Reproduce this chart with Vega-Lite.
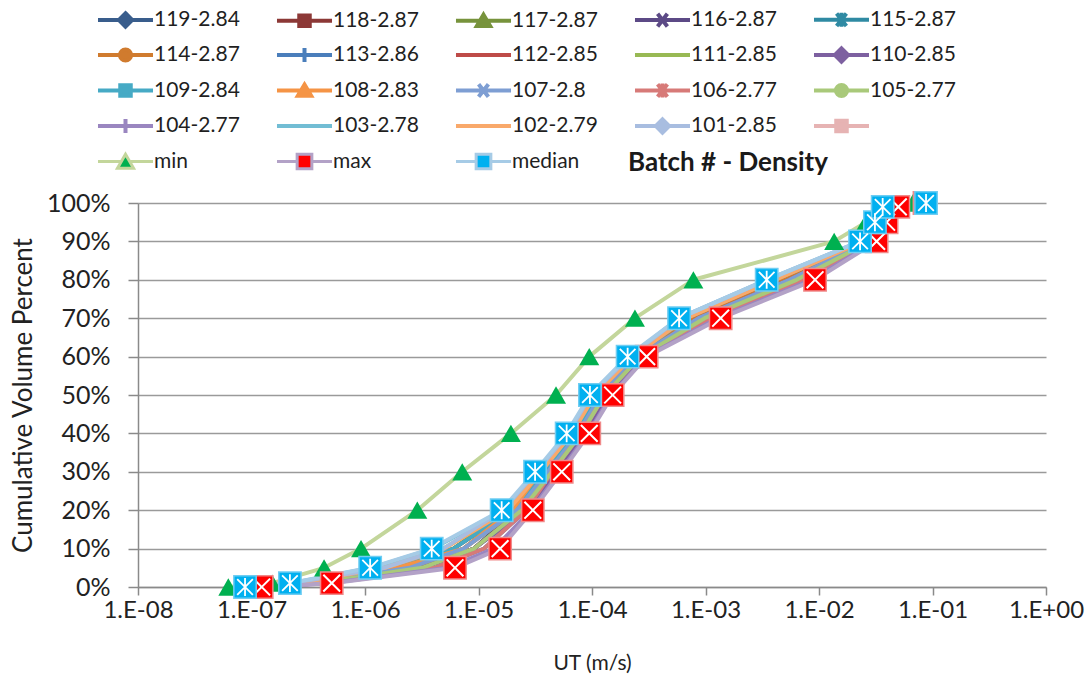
{
"$schema": "https://vega.github.io/schema/vega-lite/v6.json",
"width": 908, "height": 384,
"autosize": {"type": "none"},
"padding": {"left": 138, "top": 203, "right": 46, "bottom": 99},
"background": "white",
"title": {"text": "Batch # - Density", "anchor": "start", "frame": "group", "dx": 490, "dy": 171, "fontSize": 26, "fontWeight": "bold", "font": "Lato", "color": "#1a1a1a"},
"config": {"font": "Lato", "view": {"stroke": null}},
"data": {"values": [
{"series":"119-2.84","pct":0,"ut":1.054e-7},{"series":"119-2.84","pct":0.01,"ut":3.29e-7},{"series":"119-2.84","pct":0.05,"ut":3.19e-6},{"series":"119-2.84","pct":0.1,"ut":9.12e-6},{"series":"119-2.84","pct":0.2,"ut":2.18e-5},{"series":"119-2.84","pct":0.3,"ut":4.1e-5},{"series":"119-2.84","pct":0.4,"ut":7.53e-5},{"series":"119-2.84","pct":0.5,"ut":1.2e-4},{"series":"119-2.84","pct":0.6,"ut":2.52e-4},{"series":"119-2.84","pct":0.7,"ut":8.65e-4},{"series":"119-2.84","pct":0.8,"ut":5.47e-3},{"series":"119-2.84","pct":0.9,"ut":0.027},{"series":"119-2.84","pct":0.95,"ut":0.0351},{"series":"119-2.84","pct":0.99,"ut":0.042},{"series":"119-2.84","pct":1,"ut":0.078},
{"series":"118-2.87","pct":0,"ut":1.005e-7},{"series":"118-2.87","pct":0.01,"ut":2.89e-7},{"series":"118-2.87","pct":0.05,"ut":1.91e-6},{"series":"118-2.87","pct":0.1,"ut":6.03e-6},{"series":"118-2.87","pct":0.2,"ut":1.98e-5},{"series":"118-2.87","pct":0.3,"ut":3.79e-5},{"series":"118-2.87","pct":0.4,"ut":7.05e-5},{"series":"118-2.87","pct":0.5,"ut":1.12e-4},{"series":"118-2.87","pct":0.6,"ut":2.39e-4},{"series":"118-2.87","pct":0.7,"ut":7.6e-4},{"series":"118-2.87","pct":0.8,"ut":4.71e-3},{"series":"118-2.87","pct":0.9,"ut":0.0256},{"series":"118-2.87","pct":0.95,"ut":0.0339},{"series":"118-2.87","pct":0.99,"ut":0.04},{"series":"118-2.87","pct":1,"ut":0.074},
{"series":"117-2.87","pct":0,"ut":9.57e-8},{"series":"117-2.87","pct":0.01,"ut":2.55e-7},{"series":"117-2.87","pct":0.05,"ut":1.91e-6},{"series":"117-2.87","pct":0.1,"ut":6.03e-6},{"series":"117-2.87","pct":0.2,"ut":1.8e-5},{"series":"117-2.87","pct":0.3,"ut":3.5e-5},{"series":"117-2.87","pct":0.4,"ut":6.59e-5},{"series":"117-2.87","pct":0.5,"ut":1.05e-4},{"series":"117-2.87","pct":0.6,"ut":2.26e-4},{"series":"117-2.87","pct":0.7,"ut":6.7e-4},{"series":"117-2.87","pct":0.8,"ut":4.06e-3},{"series":"117-2.87","pct":0.9,"ut":0.0244},{"series":"117-2.87","pct":0.95,"ut":0.0327},{"series":"117-2.87","pct":0.99,"ut":0.0381},{"series":"117-2.87","pct":1,"ut":0.07},
{"series":"116-2.87","pct":0,"ut":1.107e-7},{"series":"116-2.87","pct":0.01,"ut":3.73e-7},{"series":"116-2.87","pct":0.05,"ut":3.19e-6},{"series":"116-2.87","pct":0.1,"ut":9.12e-6},{"series":"116-2.87","pct":0.2,"ut":2.4e-5},{"series":"116-2.87","pct":0.3,"ut":4.45e-5},{"series":"116-2.87","pct":0.4,"ut":8.07e-5},{"series":"116-2.87","pct":0.5,"ut":1.29e-4},{"series":"116-2.87","pct":0.6,"ut":2.67e-4},{"series":"116-2.87","pct":0.7,"ut":1.12e-3},{"series":"116-2.87","pct":0.8,"ut":7.36e-3},{"series":"116-2.87","pct":0.9,"ut":0.0283},{"series":"116-2.87","pct":0.95,"ut":0.0363},{"series":"116-2.87","pct":0.99,"ut":0.0441},{"series":"116-2.87","pct":1,"ut":0.082},
{"series":"115-2.87","pct":0,"ut":1.054e-7},{"series":"115-2.87","pct":0.01,"ut":3.29e-7},{"series":"115-2.87","pct":0.05,"ut":2.47e-6},{"series":"115-2.87","pct":0.1,"ut":7.41e-6},{"series":"115-2.87","pct":0.2,"ut":1.98e-5},{"series":"115-2.87","pct":0.3,"ut":3.79e-5},{"series":"115-2.87","pct":0.4,"ut":7.05e-5},{"series":"115-2.87","pct":0.5,"ut":1.2e-4},{"series":"115-2.87","pct":0.6,"ut":2.52e-4},{"series":"115-2.87","pct":0.7,"ut":8.65e-4},{"series":"115-2.87","pct":0.8,"ut":5.47e-3},{"series":"115-2.87","pct":0.9,"ut":0.027},{"series":"115-2.87","pct":0.95,"ut":0.0351},{"series":"115-2.87","pct":0.99,"ut":0.042},{"series":"115-2.87","pct":1,"ut":0.078},
{"series":"114-2.87","pct":0,"ut":1.005e-7},{"series":"114-2.87","pct":0.01,"ut":2.89e-7},{"series":"114-2.87","pct":0.05,"ut":2.47e-6},{"series":"114-2.87","pct":0.1,"ut":7.41e-6},{"series":"114-2.87","pct":0.2,"ut":2.18e-5},{"series":"114-2.87","pct":0.3,"ut":3.79e-5},{"series":"114-2.87","pct":0.4,"ut":7.05e-5},{"series":"114-2.87","pct":0.5,"ut":1.12e-4},{"series":"114-2.87","pct":0.6,"ut":2.39e-4},{"series":"114-2.87","pct":0.7,"ut":7.6e-4},{"series":"114-2.87","pct":0.8,"ut":4.71e-3},{"series":"114-2.87","pct":0.9,"ut":0.0256},{"series":"114-2.87","pct":0.95,"ut":0.0339},{"series":"114-2.87","pct":0.99,"ut":0.04},{"series":"114-2.87","pct":1,"ut":0.074},
{"series":"113-2.86","pct":0,"ut":1.16e-7},{"series":"113-2.86","pct":0.01,"ut":4.25e-7},{"series":"113-2.86","pct":0.05,"ut":4.12e-6},{"series":"113-2.86","pct":0.1,"ut":1.12e-5},{"series":"113-2.86","pct":0.2,"ut":2.64e-5},{"series":"113-2.86","pct":0.3,"ut":4.81e-5},{"series":"113-2.86","pct":0.4,"ut":8.63e-5},{"series":"113-2.86","pct":0.5,"ut":1.38e-4},{"series":"113-2.86","pct":0.6,"ut":2.82e-4},{"series":"113-2.86","pct":0.7,"ut":1.12e-3},{"series":"113-2.86","pct":0.8,"ut":7.36e-3},{"series":"113-2.86","pct":0.9,"ut":0.0298},{"series":"113-2.86","pct":0.95,"ut":0.0376},{"series":"113-2.86","pct":0.99,"ut":0.0462},{"series":"113-2.86","pct":1,"ut":0.085},
{"series":"112-2.85","pct":0,"ut":1.107e-7},{"series":"112-2.85","pct":0.01,"ut":3.73e-7},{"series":"112-2.85","pct":0.05,"ut":3.19e-6},{"series":"112-2.85","pct":0.1,"ut":9.12e-6},{"series":"112-2.85","pct":0.2,"ut":2.4e-5},{"series":"112-2.85","pct":0.3,"ut":4.45e-5},{"series":"112-2.85","pct":0.4,"ut":8.07e-5},{"series":"112-2.85","pct":0.5,"ut":1.29e-4},{"series":"112-2.85","pct":0.6,"ut":2.67e-4},{"series":"112-2.85","pct":0.7,"ut":8.65e-4},{"series":"112-2.85","pct":0.8,"ut":5.47e-3},{"series":"112-2.85","pct":0.9,"ut":0.0283},{"series":"112-2.85","pct":0.95,"ut":0.0363},{"series":"112-2.85","pct":0.99,"ut":0.0441},{"series":"112-2.85","pct":1,"ut":0.082},
{"series":"111-2.85","pct":0,"ut":9.57e-8},{"series":"111-2.85","pct":0.01,"ut":2.55e-7},{"series":"111-2.85","pct":0.05,"ut":1.48e-6},{"series":"111-2.85","pct":0.1,"ut":4.9e-6},{"series":"111-2.85","pct":0.2,"ut":1.8e-5},{"series":"111-2.85","pct":0.3,"ut":3.5e-5},{"series":"111-2.85","pct":0.4,"ut":6.59e-5},{"series":"111-2.85","pct":0.5,"ut":1.05e-4},{"series":"111-2.85","pct":0.6,"ut":2.26e-4},{"series":"111-2.85","pct":0.7,"ut":6.7e-4},{"series":"111-2.85","pct":0.8,"ut":4.06e-3},{"series":"111-2.85","pct":0.9,"ut":0.0244},{"series":"111-2.85","pct":0.95,"ut":0.0327},{"series":"111-2.85","pct":0.99,"ut":0.0381},{"series":"111-2.85","pct":1,"ut":0.07},
{"series":"110-2.85","pct":0,"ut":1.16e-7},{"series":"110-2.85","pct":0.01,"ut":4.25e-7},{"series":"110-2.85","pct":0.05,"ut":3.19e-6},{"series":"110-2.85","pct":0.1,"ut":9.12e-6},{"series":"110-2.85","pct":0.2,"ut":2.64e-5},{"series":"110-2.85","pct":0.3,"ut":4.81e-5},{"series":"110-2.85","pct":0.4,"ut":8.63e-5},{"series":"110-2.85","pct":0.5,"ut":1.38e-4},{"series":"110-2.85","pct":0.6,"ut":2.82e-4},{"series":"110-2.85","pct":0.7,"ut":1.12e-3},{"series":"110-2.85","pct":0.8,"ut":7.36e-3},{"series":"110-2.85","pct":0.9,"ut":0.0298},{"series":"110-2.85","pct":0.95,"ut":0.0376},{"series":"110-2.85","pct":0.99,"ut":0.0462},{"series":"110-2.85","pct":1,"ut":0.085},
{"series":"109-2.84","pct":0,"ut":1.005e-7},{"series":"109-2.84","pct":0.01,"ut":2.89e-7},{"series":"109-2.84","pct":0.05,"ut":1.91e-6},{"series":"109-2.84","pct":0.1,"ut":6.03e-6},{"series":"109-2.84","pct":0.2,"ut":1.98e-5},{"series":"109-2.84","pct":0.3,"ut":3.79e-5},{"series":"109-2.84","pct":0.4,"ut":7.05e-5},{"series":"109-2.84","pct":0.5,"ut":1.12e-4},{"series":"109-2.84","pct":0.6,"ut":2.39e-4},{"series":"109-2.84","pct":0.7,"ut":6.7e-4},{"series":"109-2.84","pct":0.8,"ut":4.06e-3},{"series":"109-2.84","pct":0.9,"ut":0.0256},{"series":"109-2.84","pct":0.95,"ut":0.0339},{"series":"109-2.84","pct":0.99,"ut":0.04},{"series":"109-2.84","pct":1,"ut":0.074},
{"series":"108-2.83","pct":0,"ut":9.57e-8},{"series":"108-2.83","pct":0.01,"ut":2.55e-7},{"series":"108-2.83","pct":0.05,"ut":1.91e-6},{"series":"108-2.83","pct":0.1,"ut":7.41e-6},{"series":"108-2.83","pct":0.2,"ut":1.98e-5},{"series":"108-2.83","pct":0.3,"ut":3.5e-5},{"series":"108-2.83","pct":0.4,"ut":6.59e-5},{"series":"108-2.83","pct":0.5,"ut":1.05e-4},{"series":"108-2.83","pct":0.6,"ut":2.26e-4},{"series":"108-2.83","pct":0.7,"ut":6.7e-4},{"series":"108-2.83","pct":0.8,"ut":4.06e-3},{"series":"108-2.83","pct":0.9,"ut":0.0244},{"series":"108-2.83","pct":0.95,"ut":0.0327},{"series":"108-2.83","pct":0.99,"ut":0.0381},{"series":"108-2.83","pct":1,"ut":0.07},
{"series":"107-2.8","pct":0,"ut":1.054e-7},{"series":"107-2.8","pct":0.01,"ut":3.29e-7},{"series":"107-2.8","pct":0.05,"ut":2.47e-6},{"series":"107-2.8","pct":0.1,"ut":7.41e-6},{"series":"107-2.8","pct":0.2,"ut":2.18e-5},{"series":"107-2.8","pct":0.3,"ut":4.1e-5},{"series":"107-2.8","pct":0.4,"ut":7.53e-5},{"series":"107-2.8","pct":0.5,"ut":1.2e-4},{"series":"107-2.8","pct":0.6,"ut":2.52e-4},{"series":"107-2.8","pct":0.7,"ut":8.65e-4},{"series":"107-2.8","pct":0.8,"ut":5.47e-3},{"series":"107-2.8","pct":0.9,"ut":0.027},{"series":"107-2.8","pct":0.95,"ut":0.0351},{"series":"107-2.8","pct":0.99,"ut":0.042},{"series":"107-2.8","pct":1,"ut":0.078},
{"series":"106-2.77","pct":0,"ut":1.16e-7},{"series":"106-2.77","pct":0.01,"ut":4.25e-7},{"series":"106-2.77","pct":0.05,"ut":4.12e-6},{"series":"106-2.77","pct":0.1,"ut":1.12e-5},{"series":"106-2.77","pct":0.2,"ut":2.64e-5},{"series":"106-2.77","pct":0.3,"ut":4.45e-5},{"series":"106-2.77","pct":0.4,"ut":8.07e-5},{"series":"106-2.77","pct":0.5,"ut":1.29e-4},{"series":"106-2.77","pct":0.6,"ut":2.67e-4},{"series":"106-2.77","pct":0.7,"ut":1.12e-3},{"series":"106-2.77","pct":0.8,"ut":7.36e-3},{"series":"106-2.77","pct":0.9,"ut":0.0298},{"series":"106-2.77","pct":0.95,"ut":0.0376},{"series":"106-2.77","pct":0.99,"ut":0.0462},{"series":"106-2.77","pct":1,"ut":0.085},
{"series":"105-2.77","pct":0,"ut":1.107e-7},{"series":"105-2.77","pct":0.01,"ut":3.73e-7},{"series":"105-2.77","pct":0.05,"ut":3.19e-6},{"series":"105-2.77","pct":0.1,"ut":9.12e-6},{"series":"105-2.77","pct":0.2,"ut":2.4e-5},{"series":"105-2.77","pct":0.3,"ut":4.45e-5},{"series":"105-2.77","pct":0.4,"ut":8.07e-5},{"series":"105-2.77","pct":0.5,"ut":1.29e-4},{"series":"105-2.77","pct":0.6,"ut":2.67e-4},{"series":"105-2.77","pct":0.7,"ut":9.82e-4},{"series":"105-2.77","pct":0.8,"ut":6.34e-3},{"series":"105-2.77","pct":0.9,"ut":0.0283},{"series":"105-2.77","pct":0.95,"ut":0.0363},{"series":"105-2.77","pct":0.99,"ut":0.0441},{"series":"105-2.77","pct":1,"ut":0.082},
{"series":"104-2.77","pct":0,"ut":1.22e-7},{"series":"104-2.77","pct":0.01,"ut":4.82e-7},{"series":"104-2.77","pct":0.05,"ut":5.32e-6},{"series":"104-2.77","pct":0.1,"ut":1.38e-5},{"series":"104-2.77","pct":0.2,"ut":2.9e-5},{"series":"104-2.77","pct":0.3,"ut":5.21e-5},{"series":"104-2.77","pct":0.4,"ut":9.23e-5},{"series":"104-2.77","pct":0.5,"ut":1.48e-4},{"series":"104-2.77","pct":0.6,"ut":2.98e-4},{"series":"104-2.77","pct":0.7,"ut":1.27e-3},{"series":"104-2.77","pct":0.8,"ut":8.53e-3},{"series":"104-2.77","pct":0.9,"ut":0.0313},{"series":"104-2.77","pct":0.95,"ut":0.0389},{"series":"104-2.77","pct":0.99,"ut":0.0485},{"series":"104-2.77","pct":1,"ut":0.088},
{"series":"103-2.78","pct":0,"ut":9.12e-8},{"series":"103-2.78","pct":0.01,"ut":2.24e-7},{"series":"103-2.78","pct":0.05,"ut":1.15e-6},{"series":"103-2.78","pct":0.1,"ut":3.98e-6},{"series":"103-2.78","pct":0.2,"ut":1.64e-5},{"series":"103-2.78","pct":0.3,"ut":3.24e-5},{"series":"103-2.78","pct":0.4,"ut":6.17e-5},{"series":"103-2.78","pct":0.5,"ut":9.77e-5},{"series":"103-2.78","pct":0.6,"ut":2.14e-4},{"series":"103-2.78","pct":0.7,"ut":5.89e-4},{"series":"103-2.78","pct":0.8,"ut":3.5e-3},{"series":"103-2.78","pct":0.9,"ut":0.0232},{"series":"103-2.78","pct":0.95,"ut":0.0316},{"series":"103-2.78","pct":0.99,"ut":0.0363},{"series":"103-2.78","pct":1,"ut":0.066},
{"series":"102-2.79","pct":0,"ut":9.6e-8},{"series":"102-2.79","pct":0.01,"ut":2.6e-7},{"series":"102-2.79","pct":0.05,"ut":1.5e-6},{"series":"102-2.79","pct":0.1,"ut":5.0e-6},{"series":"102-2.79","pct":0.2,"ut":1.82e-5},{"series":"102-2.79","pct":0.3,"ut":3.55e-5},{"series":"102-2.79","pct":0.4,"ut":6.65e-5},{"series":"102-2.79","pct":0.5,"ut":1.06e-4},{"series":"102-2.79","pct":0.6,"ut":2.28e-4},{"series":"102-2.79","pct":0.7,"ut":6.8e-4},{"series":"102-2.79","pct":0.8,"ut":4.1e-3},{"series":"102-2.79","pct":0.9,"ut":0.0246},{"series":"102-2.79","pct":0.95,"ut":0.033},{"series":"102-2.79","pct":0.99,"ut":0.0385},{"series":"102-2.79","pct":1,"ut":0.071},
{"series":"101-2.85","pct":0,"ut":9.12e-8},{"series":"101-2.85","pct":0.01,"ut":2.24e-7},{"series":"101-2.85","pct":0.05,"ut":1.48e-6},{"series":"101-2.85","pct":0.1,"ut":4.9e-6},{"series":"101-2.85","pct":0.2,"ut":1.64e-5},{"series":"101-2.85","pct":0.3,"ut":3.24e-5},{"series":"101-2.85","pct":0.4,"ut":6.17e-5},{"series":"101-2.85","pct":0.5,"ut":9.77e-5},{"series":"101-2.85","pct":0.6,"ut":2.14e-4},{"series":"101-2.85","pct":0.7,"ut":5.89e-4},{"series":"101-2.85","pct":0.8,"ut":3.5e-3},{"series":"101-2.85","pct":0.9,"ut":0.0232},{"series":"101-2.85","pct":0.95,"ut":0.0316},{"series":"101-2.85","pct":0.99,"ut":0.0363},{"series":"101-2.85","pct":1,"ut":0.066},
{"series":"min","pct":0,"ut":6.25e-8},{"series":"min","pct":0.01,"ut":1.52e-7},{"series":"min","pct":0.05,"ut":4.36e-7},{"series":"min","pct":0.1,"ut":9.23e-7},{"series":"min","pct":0.2,"ut":2.89e-6},{"series":"min","pct":0.3,"ut":7.19e-6},{"series":"min","pct":0.4,"ut":1.93e-5},{"series":"min","pct":0.5,"ut":4.82e-5},{"series":"min","pct":0.6,"ut":9.46e-5},{"series":"min","pct":0.7,"ut":2.39e-4},{"series":"min","pct":0.8,"ut":7.82e-4},{"series":"min","pct":0.9,"ut":0.0136},{"series":"min","pct":0.95,"ut":0.026},{"series":"min","pct":0.99,"ut":0.034},{"series":"min","pct":1,"ut":0.067},
{"series":"max","pct":0,"ut":1.23e-7},{"series":"max","pct":0.01,"ut":5.09e-7},{"series":"max","pct":0.05,"ut":6.21e-6},{"series":"max","pct":0.1,"ut":1.55e-5},{"series":"max","pct":0.2,"ut":3.01e-5},{"series":"max","pct":0.3,"ut":5.41e-5},{"series":"max","pct":0.4,"ut":9.46e-5},{"series":"max","pct":0.5,"ut":1.52e-4},{"series":"max","pct":0.6,"ut":3.03e-4},{"series":"max","pct":0.7,"ut":1.36e-3},{"series":"max","pct":0.8,"ut":9.23e-3},{"series":"max","pct":0.9,"ut":0.0322},{"series":"max","pct":0.95,"ut":0.0394},{"series":"max","pct":0.99,"ut":0.05},{"series":"max","pct":1,"ut":0.085},
{"series":"median","pct":0,"ut":8.77e-8},{"series":"median","pct":0.01,"ut":2.18e-7},{"series":"median","pct":0.05,"ut":1.11e-6},{"series":"median","pct":0.1,"ut":3.87e-6},{"series":"median","pct":0.2,"ut":1.6e-5},{"series":"median","pct":0.3,"ut":3.15e-5},{"series":"median","pct":0.4,"ut":5.98e-5},{"series":"median","pct":0.5,"ut":9.59e-5},{"series":"median","pct":0.6,"ut":2.06e-4},{"series":"median","pct":0.7,"ut":5.85e-4},{"series":"median","pct":0.8,"ut":3.46e-3},{"series":"median","pct":0.9,"ut":0.023},{"series":"median","pct":0.95,"ut":0.0311},{"series":"median","pct":0.99,"ut":0.0364},{"series":"median","pct":1,"ut":0.0877}
]},
"encoding": {
  "x": {"field": "ut", "type": "quantitative", "scale": {"type": "log", "domain": [1e-8, 1], "nice": false},
    "axis": {"values": [1e-8,1e-7,1e-6,1e-5,1e-4,1e-3,1e-2,1e-1,1], "grid": false, "domain": true, "domainColor": "#8a8a8a", "domainWidth": 1.5, "ticks": true, "tickColor": "#8a8a8a", "tickSize": 8, "tickWidth": 1.5,
      "labelExpr": "'1.E' + (log(datum.value)/LN10 < -0.5 ? '-' : '+') + (abs(round(log(datum.value)/LN10)) < 10 ? '0' : '') + abs(round(log(datum.value)/LN10))",
      "labelFont": "Lato", "labelFontSize": 24, "labelColor": "#222222", "labelPadding": 3, "labelFlush": false, "labelOverlap": false,
      "title": "UT (m/s)", "titleFont": "Lato", "titleFontSize": 21, "titleFontWeight": "normal", "titleColor": "#222222", "titlePadding": 30}},
  "y": {"field": "pct", "type": "quantitative", "scale": {"domain": [0, 1], "nice": false},
    "axis": {"values": [0,0.1,0.2,0.3,0.4,0.5,0.6,0.7,0.8,0.9,1], "format": ".0%", "grid": true, "gridColor": "#9a9a9a", "gridWidth": 1.5, "domain": true, "domainColor": "#8a8a8a", "domainWidth": 1.5, "ticks": true, "tickColor": "#8a8a8a", "tickSize": 10, "tickWidth": 1.5,
      "labelFont": "Lato", "labelFontSize": 25, "labelColor": "#222222", "labelPadding": 18, "labelFlush": false,
      "title": "Cumulative Volume Percent", "titleFont": "Lato", "titleFontSize": 26, "titleFontWeight": "normal", "titleColor": "#222222", "titlePadding": 10}}
},
"layer": [
  {"mark": {"type": "line", "strokeWidth": 4, "strokeJoin": "round", "strokeCap": "round"},
   "encoding": {
     "stroke": {"field": "series", "type": "nominal",
       "scale": {"domain": ["119-2.84","118-2.87","117-2.87","116-2.87","115-2.87","114-2.87","113-2.86","112-2.85","111-2.85","110-2.85","109-2.84","108-2.83","107-2.8","106-2.77","105-2.77","104-2.77","103-2.78","102-2.79","101-2.85"," ","min","max","median"],
                 "range": ["#395d8c","#8c3836","#77933c","#5c4a86","#2f8aa3","#d07b2e","#4a7ebb","#be4b48","#98b954","#7d60a0","#46aac5","#f59445","#7e9ed3","#d77a78","#a9c97a","#9a86c0","#72bdd4","#f9a96b","#a8bde0","#e6b3b3","#c3d69b","#b3a2c7","#a6cbe6"]},
       "legend": {"title": null, "orient": "none", "direction": "horizontal", "legendX": -23, "legendY": -194, "columns": 5, "gridAlign": "all", "columnPadding": 28, "rowPadding": 4.5, "symbolSize": 196, "symbolOffset": 0, "labelOffset": 18, "labelFont": "Lato", "labelFontSize": 21, "labelColor": "#1f1f1f", "labelLimit": 0, "symbolLimit": 0,
         "encode": {"symbols": {"update": {"fill": {"scale": "fill", "field": "value"}, "stroke": {"scale": "stroke", "field": "value"}, "shape": {"scale": "shape", "field": "value"}, "strokeWidth": {"signal": "datum.value === 'min' || datum.value === 'max' || datum.value === 'median' ? 3 : 4"}, "opacity": {"value": 1}}}}}},
     "order": {"field": "pct", "type": "quantitative"}}},
  {"transform": [{"filter": "datum.series === 'none'"}],
   "mark": {"type": "point", "filled": true},
   "encoding": {
     "stroke": {"field": "series", "type": "nominal",
       "legend": {"title": null, "orient": "none", "direction": "horizontal", "legendX": -23, "legendY": -194, "columns": 5, "gridAlign": "all", "columnPadding": 28, "rowPadding": 4.5, "symbolSize": 196, "symbolOffset": 0, "labelOffset": 18, "labelFont": "Lato", "labelFontSize": 21, "labelColor": "#1f1f1f", "labelLimit": 0, "symbolLimit": 0,
         "encode": {"symbols": {"update": {"fill": {"scale": "fill", "field": "value"}, "stroke": {"scale": "stroke", "field": "value"}, "shape": {"scale": "shape", "field": "value"}, "strokeWidth": {"signal": "datum.value === 'min' || datum.value === 'max' || datum.value === 'median' ? 3 : 4"}, "opacity": {"value": 1}}}}}},
     "fill": {"field": "series", "type": "nominal",
       "scale": {"domain": ["119-2.84","118-2.87","117-2.87","116-2.87","115-2.87","114-2.87","113-2.86","112-2.85","111-2.85","110-2.85","109-2.84","108-2.83","107-2.8","106-2.77","105-2.77","104-2.77","103-2.78","102-2.79","101-2.85"," ","min","max","median"],
                 "range": ["#395d8c","#8c3836","#77933c","#5c4a86","#2f8aa3","#d07b2e","#4a7ebb","#be4b48","#98b954","#7d60a0","#46aac5","#f59445","#7e9ed3","#d77a78","#a9c97a","#9a86c0","#72bdd4","#f9a96b","#a8bde0","#e6b3b3","#00b050","#ff0000","#00b0f0"]},
       "legend": {"title": null, "orient": "none", "direction": "horizontal", "legendX": -23, "legendY": -194, "columns": 5, "gridAlign": "all", "columnPadding": 28, "rowPadding": 4.5, "symbolSize": 196, "symbolOffset": 0, "labelOffset": 18, "labelFont": "Lato", "labelFontSize": 21, "labelColor": "#1f1f1f", "labelLimit": 0, "symbolLimit": 0,
         "encode": {"symbols": {"update": {"fill": {"scale": "fill", "field": "value"}, "stroke": {"scale": "stroke", "field": "value"}, "shape": {"scale": "shape", "field": "value"}, "strokeWidth": {"signal": "datum.value === 'min' || datum.value === 'max' || datum.value === 'median' ? 3 : 4"}, "opacity": {"value": 1}}}}}},
     "shape": {"field": "series", "type": "nominal",
       "scale": {"domain": ["119-2.84","118-2.87","117-2.87","116-2.87","115-2.87","114-2.87","113-2.86","112-2.85","111-2.85","110-2.85","109-2.84","108-2.83","107-2.8","106-2.77","105-2.77","104-2.77","103-2.78","102-2.79","101-2.85"," ","min","max","median"],
                 "range": [
                   "M-3.93,0H3.93M0,-0.95L0.95,0L0,0.95L-0.95,0Z",
                   "M-3.93,0H3.93M-0.75,-0.75H0.75V0.75H-0.75Z",
                   "M-3.93,0H3.93M0,-0.85L0.95,0.75H-0.95Z",
                   "M-3.93,0H3.93M-0.7,-0.9L0.7,0.9M-0.7,0.9L0.7,-0.9",
                   "M-3.93,0H3.93M-0.7,-0.9L0.7,0.9M-0.7,0.9L0.7,-0.9M0,-1V1",
                   "M-3.93,0H3.93M-0.8,0A0.8,0.8,0,1,0,0.8,0A0.8,0.8,0,1,0,-0.8,0Z",
                   "M-3.93,0H3.93M0,-1V1",
                   "M-3.93,0H3.93",
                   "M-3.93,0H3.93",
                   "M-3.93,0H3.93M0,-0.95L0.95,0L0,0.95L-0.95,0Z",
                   "M-3.93,0H3.93M-0.75,-0.75H0.75V0.75H-0.75Z",
                   "M-3.93,0H3.93M0,-0.85L0.95,0.75H-0.95Z",
                   "M-3.93,0H3.93M-0.7,-0.9L0.7,0.9M-0.7,0.9L0.7,-0.9",
                   "M-3.93,0H3.93M-0.7,-0.9L0.7,0.9M-0.7,0.9L0.7,-0.9M0,-1V1",
                   "M-3.93,0H3.93M-0.8,0A0.8,0.8,0,1,0,0.8,0A0.8,0.8,0,1,0,-0.8,0Z",
                   "M-3.93,0H3.93M0,-1V1",
                   "M-3.93,0H3.93",
                   "M-3.93,0H3.93",
                   "M-3.93,0H3.93M0,-0.95L0.95,0L0,0.95L-0.95,0Z",
                   "M-3.93,0H3.93M-0.75,-0.75H0.75V0.75H-0.75Z",
                   "M-3.93,0H-0.75M0.75,0H3.93M0,-1.05L1.15,0.95H-1.15Z",
                   "M-3.93,0H-1.05M1.05,0H3.93M-1.05,-1.05H1.05V1.05H-1.05Z",
                   "M-3.93,0H-1.05M1.05,0H3.93M-1.05,-1.05H1.05V1.05H-1.05Z"]},
       "legend": {"title": null, "orient": "none", "direction": "horizontal", "legendX": -23, "legendY": -194, "columns": 5, "gridAlign": "all", "columnPadding": 28, "rowPadding": 4.5, "symbolSize": 196, "symbolOffset": 0, "labelOffset": 18, "labelFont": "Lato", "labelFontSize": 21, "labelColor": "#1f1f1f", "labelLimit": 0, "symbolLimit": 0,
         "encode": {"symbols": {"update": {"fill": {"scale": "fill", "field": "value"}, "stroke": {"scale": "stroke", "field": "value"}, "shape": {"scale": "shape", "field": "value"}, "strokeWidth": {"signal": "datum.value === 'min' || datum.value === 'max' || datum.value === 'median' ? 3 : 4"}, "opacity": {"value": 1}}}}}}}},
  {"transform": [{"filter": "datum.series === 'min'"}],
   "mark": {"type": "point", "shape": "triangle-up", "filled": true, "size": 400, "color": "#00b050", "opacity": 1}},
  {"transform": [{"filter": "datum.series === 'max'"}],
   "mark": {"type": "point", "shape": "square", "filled": true, "size": 500, "fill": "#ff0000", "stroke": "#f08a8a", "strokeWidth": 1.5, "opacity": 1}},
  {"transform": [{"filter": "datum.series === 'max'"}],
   "mark": {"type": "point", "shape": "M-0.75,-0.75L0.75,0.75M-0.75,0.75L0.75,-0.75", "filled": false, "size": 500, "stroke": "#ffffff", "strokeWidth": 2, "opacity": 1}},
  {"transform": [{"filter": "datum.series === 'median'"}],
   "mark": {"type": "point", "shape": "square", "filled": true, "size": 500, "fill": "#00b0f0", "stroke": "#6fcdf2", "strokeWidth": 1.5, "opacity": 1}},
  {"transform": [{"filter": "datum.series === 'median'"}],
   "mark": {"type": "point", "shape": "M0,-0.8V0.8M-0.7,-0.7L0.7,0.7M-0.7,0.7L0.7,-0.7", "filled": false, "size": 500, "stroke": "#ffffff", "strokeWidth": 1.8, "opacity": 1}}
]
}
